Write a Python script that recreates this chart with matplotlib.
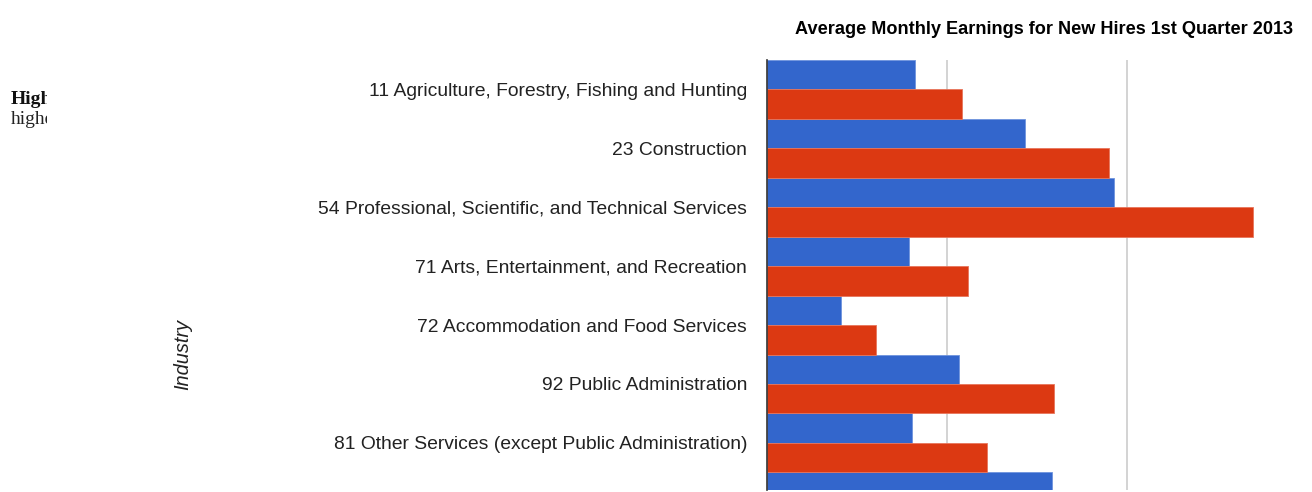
import matplotlib
matplotlib.use('Agg')
from matplotlib import pyplot as plt
from matplotlib.transforms import Bbox, TransformedBbox
import numpy as np

plt.rcParams['font.family'] = ['Liberation Sans', 'DejaVu Sans']

# industries, top to bottom (the last group is cut off by the picture edge)
industries = ["11 Agriculture, Forestry, Fishing and Hunting",
              "23 Construction",
              "54 Professional, Scientific, and Technical Services",
              "71 Arts, Entertainment, and Recreation",
              "72 Accommodation and Food Services",
              "92 Public Administration",
              "81 Other Services (except Public Administration)",
              ""]
# average monthly earnings, dollars (grid every 2000)
series_blue = [1640, 2870, 3860, 1580, 820, 2130, 1610, 3170]
series_red = [2170, 3800, 5400, 2230, 1210, 3190, 2440, np.nan]
grid_x = [2000, 4000]

BLUE = '#3366cc'
RED = '#dc3912'

fig = plt.figure(figsize=(13.12, 4.92), dpi=100)
ax = fig.add_axes([767/1312, 2/492, 533/1312, 430/492])

y = np.arange(len(industries))
ax.barh(y - 0.25, series_blue, height=0.5, color=BLUE, edgecolor='#6f93dd', linewidth=0.6)
ax.barh(y + 0.25, series_red, height=0.5, color=RED, edgecolor='#e8755b', linewidth=0.6)

for gx in grid_x:
    ax.axvline(gx, color='#cccccc', linewidth=1.2, zorder=0)

ax.set_yticks(y)
ax.set_yticklabels(industries, fontsize=13.9, color='#222222')
ax.tick_params(axis='y', length=0, pad=14.4)
ax.set_xticks([])
# set limits after the ticks, set_yticks would widen them
ax.set_xlim(0, 533*2000/180)
ax.set_ylim(6.8, -0.5)
for s in ['top', 'right', 'bottom']:
    ax.spines[s].set_visible(False)
ax.spines['left'].set_color('#333333')
ax.spines['left'].set_linewidth(1.2)

fig.text(1293/1312, 1 - 30/492, "Average Monthly Earnings for New Hires 1st Quarter 2013",
         ha='right', va='center', fontsize=13.05, fontweight='bold', color='#000000')
fig.text(183/1312, 1 - 355/492, "Industry", rotation=90, ha='center', va='center',
         fontsize=14.4, style='italic', color='#222222')

# cut off page text at the left edge
clip = TransformedBbox(Bbox([[0, 0], [47/1312, 1]]), fig.transFigure)
t1 = fig.text(11/1312, 1 - 99/492, "Highest", ha='left', va='center', fontsize=14,
              fontweight='bold', family='Liberation Serif', color='#111111')
t2 = fig.text(11/1312, 1 - 119/492, "higher", ha='left', va='center', fontsize=14,
              family='Liberation Serif', color='#222222')
for t in (t1, t2):
    t.set_clip_box(clip)
    t.set_clip_on(True)

plt.savefig('out.png', dpi=100)
plt.close('all')
